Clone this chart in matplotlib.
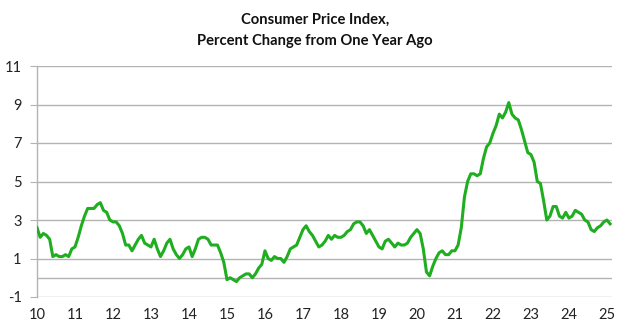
import matplotlib
matplotlib.use("Agg")
import matplotlib.pyplot as plt
import numpy as np

# Monthly CPI, % change from one year ago, Jan 2010 - Feb 2025
cpi_2010 = [2.6, 2.1, 2.3, 2.2, 2.0, 1.1, 1.2, 1.1, 1.1, 1.2, 1.1, 1.5]
cpi_2011 = [1.6, 2.1, 2.7, 3.2, 3.6, 3.6, 3.6, 3.8, 3.9, 3.5, 3.4, 3.0]
cpi_2012 = [2.9, 2.9, 2.7, 2.3, 1.7, 1.7, 1.4, 1.7, 2.0, 2.2, 1.8, 1.7]
cpi_2013 = [1.6, 2.0, 1.5, 1.1, 1.4, 1.8, 2.0, 1.5, 1.2, 1.0, 1.2, 1.5]
cpi_2014 = [1.6, 1.1, 1.5, 2.0, 2.1, 2.1, 2.0, 1.7, 1.7, 1.7, 1.3, 0.8]
cpi_2015 = [-0.1, 0.0, -0.1, -0.2, 0.0, 0.1, 0.2, 0.2, 0.0, 0.2, 0.5, 0.7]
cpi_2016 = [1.4, 1.0, 0.9, 1.1, 1.0, 1.0, 0.8, 1.1, 1.5, 1.6, 1.7, 2.1]
cpi_2017 = [2.5, 2.7, 2.4, 2.2, 1.9, 1.6, 1.7, 1.9, 2.2, 2.0, 2.2, 2.1]
cpi_2018 = [2.1, 2.2, 2.4, 2.5, 2.8, 2.9, 2.9, 2.7, 2.3, 2.5, 2.2, 1.9]
cpi_2019 = [1.6, 1.5, 1.9, 2.0, 1.8, 1.6, 1.8, 1.7, 1.7, 1.8, 2.1, 2.3]
cpi_2020 = [2.5, 2.3, 1.5, 0.3, 0.1, 0.6, 1.0, 1.3, 1.4, 1.2, 1.2, 1.4]
cpi_2021 = [1.4, 1.7, 2.6, 4.2, 5.0, 5.4, 5.4, 5.3, 5.4, 6.2, 6.8, 7.0]
cpi_2022 = [7.5, 7.9, 8.5, 8.3, 8.6, 9.1, 8.5, 8.3, 8.2, 7.7, 7.1, 6.5]
cpi_2023 = [6.4, 6.0, 5.0, 4.9, 4.0, 3.0, 3.2, 3.7, 3.7, 3.2, 3.1, 3.4]
cpi_2024 = [3.1, 3.2, 3.5, 3.4, 3.3, 3.0, 2.9, 2.5, 2.4, 2.6, 2.7, 2.9]
cpi_2025 = [3.0, 2.8]

cpi = (cpi_2010 + cpi_2011 + cpi_2012 + cpi_2013 + cpi_2014 + cpi_2015 +
       cpi_2016 + cpi_2017 + cpi_2018 + cpi_2019 + cpi_2020 + cpi_2021 +
       cpi_2022 + cpi_2023 + cpi_2024 + cpi_2025)

year_labels = ["10", "11", "12", "13", "14", "15", "16", "17", "18",
               "19", "20", "21", "22", "23", "24", "25"]
y_ticks = [-1, 1, 3, 5, 7, 9, 11]

plt.rcParams['font.family'] = ['Lato', 'DejaVu Sans']

fig = plt.figure(figsize=(6.31, 3.31), dpi=100)
ax = fig.add_axes([37/631, 1 - 297/331, (612 - 37)/631, (297 - 66)/331])

x = np.arange(len(cpi))
ax.plot(x, cpi, color="#1fae1f", linewidth=2.2, solid_joinstyle="round", zorder=3)

ax.set_ylim(-1, 11)
ax.set_xlim(0, len(cpi) - 1 + 0.6)
ax.set_yticks(y_ticks)
ax.set_yticklabels([str(v) for v in y_ticks])
ax.set_xticks([12 * i for i in range(len(year_labels))])
ax.set_xticklabels(year_labels)

grid_color = "#b3b3b3"
for v in y_ticks:
    ax.axhline(v, color=grid_color, linewidth=1.0, zorder=1)
ax.axhline(0, color=grid_color, linewidth=1.0, zorder=1)

for s in ["top", "right", "bottom"]:
    ax.spines[s].set_visible(False)
ax.spines["left"].set_color(grid_color)
ax.spines["left"].set_linewidth(1.0)

ax.tick_params(axis="y", length=5, color=grid_color, labelsize=10.5, labelcolor="#222222", pad=6)
ax.tick_params(axis="x", length=0, labelsize=10.5, labelcolor="#222222", pad=8)

fig.text(0.499, 1 - 20/331, "Consumer Price Index,", ha="center", va="center",
         fontsize=10.6, fontweight="bold", color="#111111")
fig.text(0.499, 1 - 41/331, "Percent Change from One Year Ago", ha="center", va="center",
         fontsize=10.6, fontweight="bold", color="#111111")

fig.savefig("out.png", dpi=100)
